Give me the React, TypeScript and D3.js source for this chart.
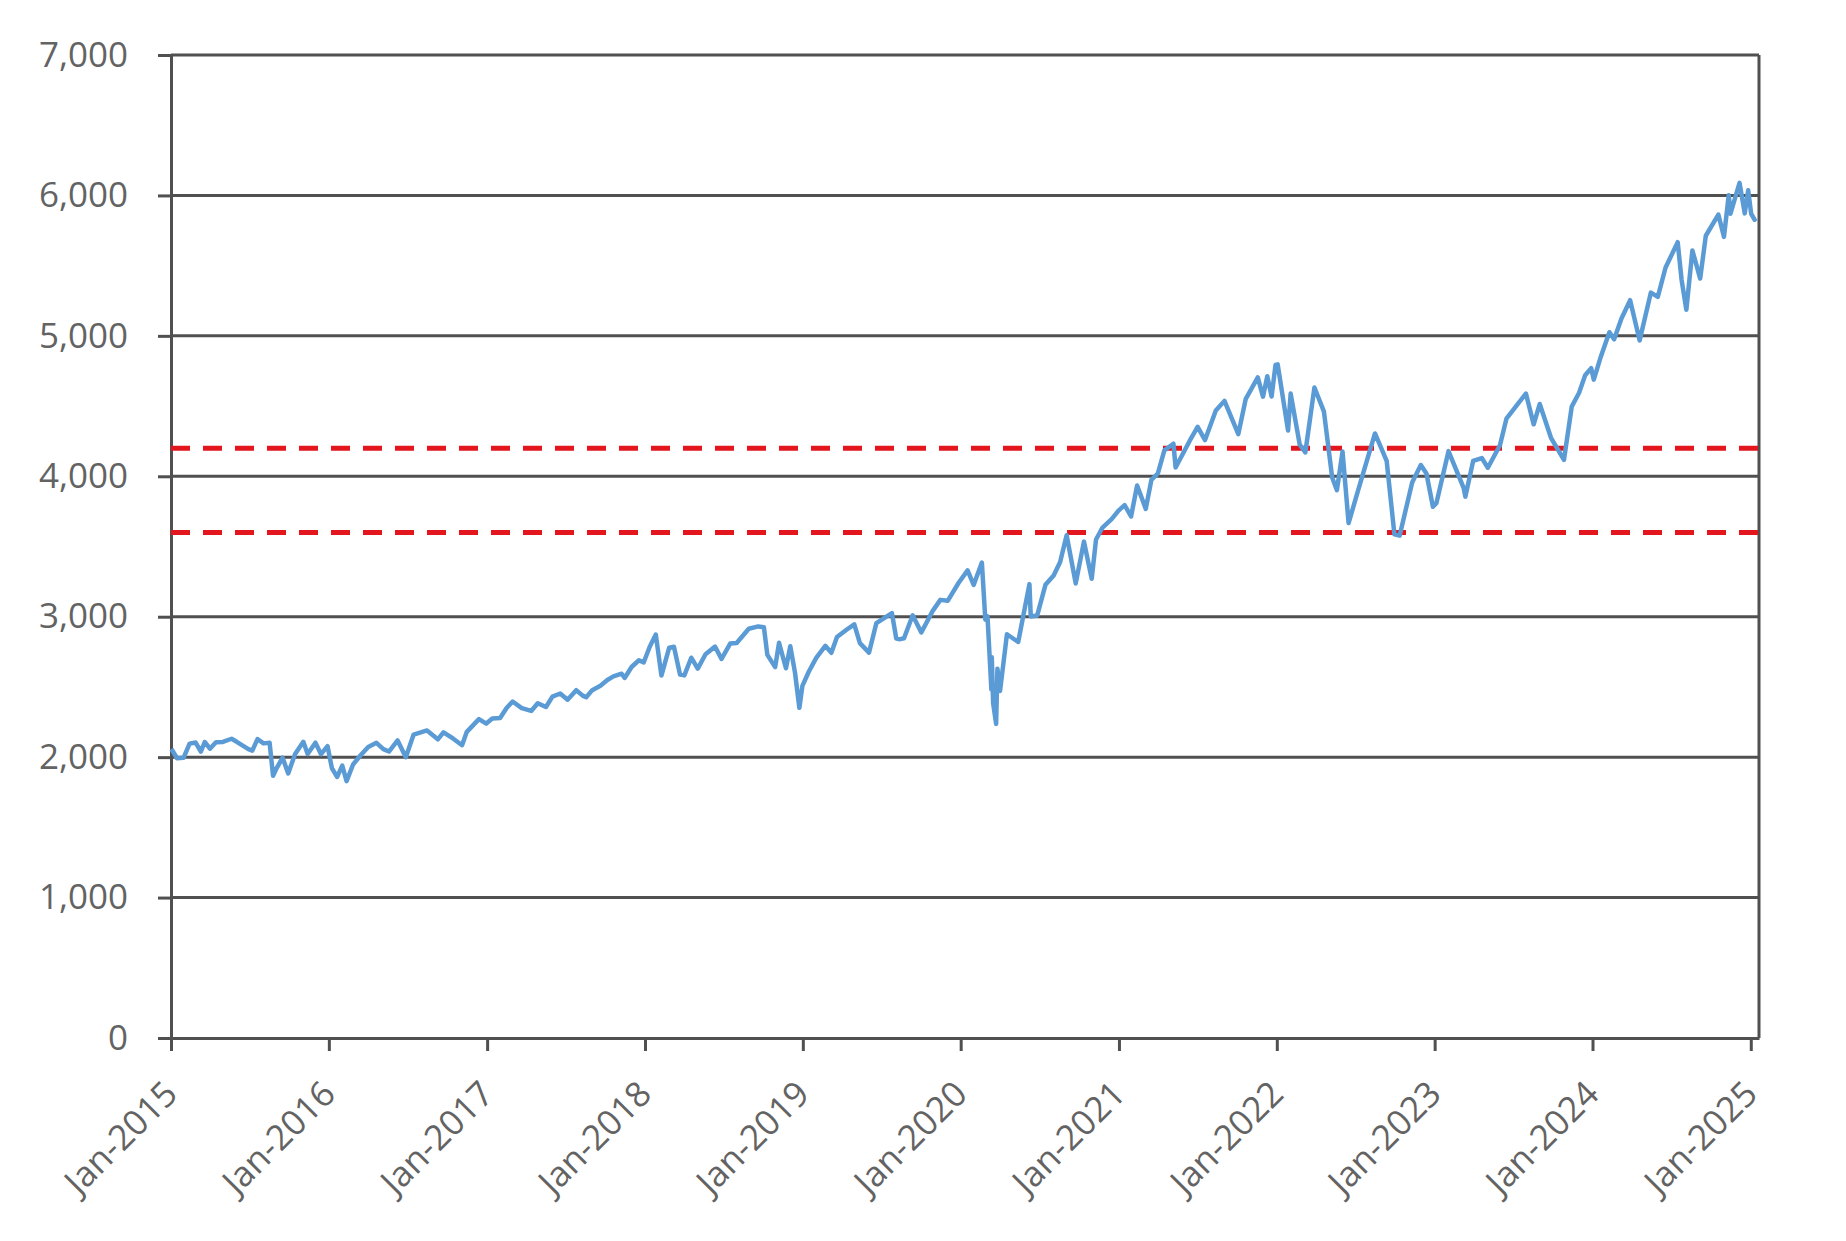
import { useEffect, useRef } from "react";
import * as d3 from "d3";

// S&P 500 closes (approximate)
const spx: [string, number][] = [
  ["2015-01-02", 2058], ["2015-01-15", 1992], ["2015-01-30", 1995], ["2015-02-13", 2096],
  ["2015-02-27", 2104], ["2015-03-11", 2040], ["2015-03-20", 2108], ["2015-04-01", 2060],
  ["2015-04-15", 2106], ["2015-05-01", 2108], ["2015-05-21", 2131], ["2015-06-01", 2111],
  ["2015-06-15", 2084], ["2015-06-29", 2057], ["2015-07-08", 2046], ["2015-07-20", 2128],
  ["2015-08-03", 2098], ["2015-08-17", 2102], ["2015-08-25", 1868], ["2015-09-01", 1914],
  ["2015-09-16", 1996], ["2015-09-29", 1884], ["2015-10-15", 2023], ["2015-11-03", 2109],
  ["2015-11-13", 2023], ["2015-12-01", 2103], ["2015-12-14", 2021], ["2015-12-29", 2078],
  ["2016-01-08", 1922], ["2016-01-20", 1859], ["2016-02-01", 1940], ["2016-02-11", 1829],
  ["2016-02-26", 1948], ["2016-03-15", 2015], ["2016-04-01", 2073], ["2016-04-20", 2102],
  ["2016-05-06", 2057], ["2016-05-19", 2040], ["2016-06-08", 2119], ["2016-06-27", 2000],
  ["2016-07-15", 2161], ["2016-08-15", 2190], ["2016-09-09", 2127], ["2016-09-22", 2177],
  ["2016-10-14", 2133], ["2016-11-04", 2085], ["2016-11-15", 2180], ["2016-12-13", 2271],
  ["2016-12-30", 2239],
  ["2017-01-13", 2275], ["2017-01-31", 2279], ["2017-02-15", 2350], ["2017-03-01", 2396],
  ["2017-03-22", 2349], ["2017-04-13", 2329], ["2017-04-28", 2384], ["2017-05-17", 2357],
  ["2017-06-01", 2431], ["2017-06-19", 2453], ["2017-07-06", 2409], ["2017-07-26", 2477],
  ["2017-08-10", 2438], ["2017-08-18", 2426], ["2017-09-01", 2477], ["2017-09-20", 2508],
  ["2017-10-06", 2549], ["2017-10-20", 2575], ["2017-11-08", 2594], ["2017-11-15", 2564],
  ["2017-12-01", 2642], ["2017-12-18", 2690], ["2017-12-29", 2674],
  ["2018-01-12", 2786], ["2018-01-26", 2873], ["2018-02-08", 2581], ["2018-02-26", 2780],
  ["2018-03-09", 2786], ["2018-03-23", 2588], ["2018-04-02", 2582], ["2018-04-18", 2708],
  ["2018-05-03", 2630], ["2018-05-21", 2733], ["2018-06-12", 2787], ["2018-06-27", 2699],
  ["2018-07-17", 2809], ["2018-08-01", 2813], ["2018-08-29", 2914], ["2018-09-20", 2931],
  ["2018-10-03", 2925], ["2018-10-11", 2728], ["2018-10-29", 2641], ["2018-11-07", 2814],
  ["2018-11-23", 2633], ["2018-12-03", 2790], ["2018-12-14", 2600], ["2018-12-24", 2351],
  ["2018-12-31", 2507],
  ["2019-01-15", 2610], ["2019-02-01", 2707], ["2019-02-22", 2793], ["2019-03-08", 2743],
  ["2019-03-21", 2855], ["2019-04-12", 2907], ["2019-04-30", 2946], ["2019-05-13", 2812],
  ["2019-06-03", 2744], ["2019-06-20", 2954], ["2019-07-26", 3026], ["2019-08-05", 2845],
  ["2019-08-14", 2840], ["2019-08-23", 2847], ["2019-09-12", 3010], ["2019-10-02", 2888],
  ["2019-10-28", 3040], ["2019-11-15", 3120], ["2019-12-02", 3113], ["2019-12-27", 3240],
  ["2020-01-17", 3330], ["2020-01-31", 3226], ["2020-02-19", 3386], ["2020-02-27", 2979],
  ["2020-03-03", 3003], ["2020-03-12", 2481], ["2020-03-13", 2711], ["2020-03-16", 2386],
  ["2020-03-23", 2237], ["2020-03-26", 2630], ["2020-04-01", 2471], ["2020-04-17", 2875],
  ["2020-05-13", 2820], ["2020-06-08", 3232], ["2020-06-11", 3002], ["2020-06-26", 3009],
  ["2020-07-15", 3227], ["2020-08-03", 3294], ["2020-08-18", 3390], ["2020-09-02", 3580],
  ["2020-09-23", 3237], ["2020-10-12", 3535], ["2020-10-30", 3270], ["2020-11-09", 3550],
  ["2020-11-24", 3635], ["2020-12-15", 3695], ["2020-12-31", 3756],
  ["2021-01-14", 3795], ["2021-01-29", 3714], ["2021-02-12", 3934], ["2021-03-04", 3768],
  ["2021-03-17", 3974], ["2021-04-01", 4020], ["2021-04-16", 4185], ["2021-05-07", 4232],
  ["2021-05-12", 4063], ["2021-06-14", 4255], ["2021-07-02", 4352], ["2021-07-19", 4258],
  ["2021-08-13", 4468], ["2021-09-02", 4537], ["2021-10-04", 4300], ["2021-10-21", 4549],
  ["2021-11-18", 4704], ["2021-11-30", 4567], ["2021-12-10", 4712], ["2021-12-20", 4568],
  ["2021-12-29", 4793],
  ["2022-01-03", 4797], ["2022-01-27", 4326], ["2022-02-02", 4589], ["2022-02-23", 4225],
  ["2022-03-08", 4170], ["2022-03-29", 4632], ["2022-04-20", 4460], ["2022-05-09", 3991],
  ["2022-05-20", 3901], ["2022-06-02", 4176], ["2022-06-16", 3667], ["2022-07-08", 3899],
  ["2022-08-16", 4305], ["2022-09-12", 4110], ["2022-09-30", 3586], ["2022-10-12", 3577],
  ["2022-11-10", 3956], ["2022-11-30", 4080], ["2022-12-13", 4020], ["2022-12-28", 3783],
  ["2023-01-05", 3808], ["2023-02-02", 4179], ["2023-03-09", 3918], ["2023-03-13", 3855],
  ["2023-03-31", 4109], ["2023-04-20", 4130], ["2023-05-04", 4061], ["2023-06-01", 4221],
  ["2023-06-16", 4410], ["2023-07-31", 4589], ["2023-08-18", 4370], ["2023-09-01", 4515],
  ["2023-09-27", 4274], ["2023-10-27", 4117], ["2023-11-14", 4496], ["2023-12-01", 4595],
  ["2023-12-15", 4719], ["2023-12-29", 4770],
  ["2024-01-04", 4688], ["2024-01-19", 4840], ["2024-02-09", 5026], ["2024-02-20", 4975],
  ["2024-03-08", 5124], ["2024-03-28", 5254], ["2024-04-19", 4967], ["2024-05-15", 5308],
  ["2024-05-31", 5278], ["2024-06-18", 5487], ["2024-07-16", 5667], ["2024-07-25", 5399],
  ["2024-08-05", 5186], ["2024-08-19", 5608], ["2024-09-06", 5408], ["2024-09-19", 5713],
  ["2024-10-18", 5864], ["2024-10-31", 5705], ["2024-11-11", 6001], ["2024-11-15", 5870],
  ["2024-12-06", 6090], ["2024-12-18", 5872], ["2024-12-26", 6037], ["2025-01-02", 5868],
  ["2025-01-10", 5827], ["2025-01-13", 5836],
];

const yTicks = [0, 1000, 2000, 3000, 4000, 5000, 6000, 7000];
const xTickYears = [2015, 2016, 2017, 2018, 2019, 2020, 2021, 2022, 2023, 2024, 2025];
const rangeLevels = [4200, 3600];

export default function App() {
  const svgRef = useRef<SVGSVGElement | null>(null);

  useEffect(() => {
    const svg = d3.select(svgRef.current);
    svg.selectAll("*").remove();

    const width = 1846;
    const height = 1241;
    const margin = { top: 55, right: 87, bottom: 203, left: 171 };
    const font = "'Open Sans', 'Liberation Sans', sans-serif";
    const labelColor = "#636363";
    const gridColor = "#505050";

    svg.attr("width", width).attr("height", height);

    const parse = d3.timeParse("%Y-%m-%d");
    const points = spx.map(([d, v]) => ({ date: parse(d) as Date, value: v }));

    const x = d3.scaleTime()
      .domain([new Date(2015, 0, 1), new Date(2025, 0, 20)])
      .range([margin.left, width - margin.right]);

    const y = d3.scaleLinear()
      .domain([0, 7000])
      .range([height - margin.bottom, margin.top]);

    // horizontal gridlines
    svg.append("g")
      .selectAll("line")
      .data(yTicks.filter((t) => t > 0))
      .enter()
      .append("line")
      .attr("x1", margin.left)
      .attr("x2", width - margin.right)
      .attr("y1", (d) => y(d))
      .attr("y2", (d) => y(d))
      .attr("stroke", gridColor)
      .attr("stroke-width", 3);

    // right border
    svg.append("line")
      .attr("x1", width - margin.right)
      .attr("x2", width - margin.right)
      .attr("y1", y(7000))
      .attr("y2", y(0))
      .attr("stroke", gridColor)
      .attr("stroke-width", 3);

    // y axis
    svg.append("g")
      .attr("transform", `translate(${margin.left},0)`)
      .call(d3.axisLeft(y).tickValues(yTicks).tickSize(13).tickSizeOuter(0).tickPadding(30)
        .tickFormat((d) => d3.format(",")(d as number)))
      .call((g) => g.selectAll("path, line").attr("stroke", gridColor).attr("stroke-width", 3))
      .call((g) => g.selectAll("text")
        .attr("fill", labelColor)
        .style("font-family", font)
        .style("font-size", "35px"));

    // x axis
    svg.append("g")
      .attr("transform", `translate(0,${y(0)})`)
      .call(d3.axisBottom(x)
        .tickValues(xTickYears.map((yr) => new Date(yr, 0, 1)))
        .tickSize(13)
        .tickSizeOuter(0)
        .tickFormat((d) => d3.timeFormat("%b-%Y")(d as Date)))
      .call((g) => g.selectAll("path, line").attr("stroke", gridColor).attr("stroke-width", 3))
      .call((g) => g.selectAll("text")
        .attr("x", 0)
        .attr("y", 0)
        .attr("dy", 0)
        .attr("text-anchor", "end")
        .attr("transform", "translate(8,58) rotate(-45)")
        .attr("fill", labelColor)
        .style("font-family", font)
        .style("font-size", "35px"));

    // red dashed range lines
    svg.append("g")
      .selectAll("line")
      .data(rangeLevels)
      .enter()
      .append("line")
      .attr("x1", margin.left)
      .attr("x2", width - margin.right)
      .attr("y1", (d) => y(d))
      .attr("y2", (d) => y(d))
      .attr("stroke", "#e3161d")
      .attr("stroke-width", 5)
      .attr("stroke-dasharray", "19 13");

    const line = d3.line<{ date: Date; value: number }>()
      .x((d) => x(d.date))
      .y((d) => y(d.value));

    svg.append("path")
      .datum(points)
      .attr("d", line)
      .attr("fill", "none")
      .attr("stroke", "#5b9bd5")
      .attr("stroke-width", 4.5)
      .attr("stroke-linejoin", "round");
  }, []);

  return (
    <svg
      ref={svgRef}
      style={{ position: "absolute", left: 0, top: 0, background: "#fff" }}
    />
  );
}
